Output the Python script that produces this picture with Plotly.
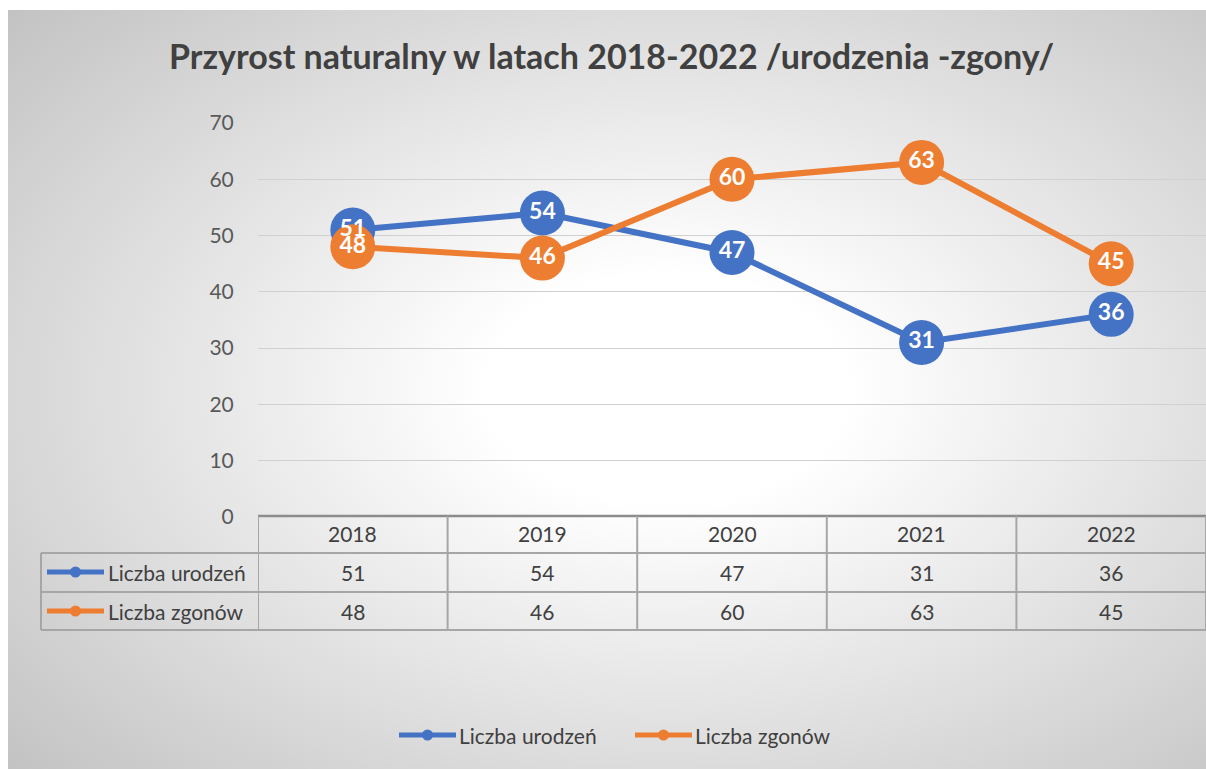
import base64
import plotly.graph_objects as go

years = ["2018", "2019", "2020", "2021", "2022"]
births = [51, 54, 47, 31, 36]
deaths = [48, 46, 60, 63, 45]
series_names = ["Liczba urodzeń", "Liczba zgonów"]
title_text = "Przyrost naturalny w latach 2018-2022 /urodzenia -zgony/"
y_ticks = [0, 10, 20, 30, 40, 50, 60, 70]

W, H = 1206, 769
BLUE = "#4472C4"
ORANGE = "#ED7D31"
TXT = "#404040"
GRID = "#d0d0d0"
TBL = "#a6a6a6"
FONT = "Lato"
FS = 21


def px(x):
    return x / W


def py(y):
    return 1 - y / H


svg = f"""<svg xmlns='http://www.w3.org/2000/svg' width='{W}' height='{H}' viewBox='0 0 1198 759' preserveAspectRatio='none'>
<defs><radialGradient id='g' cx='0.55' cy='0.5' r='0.75' gradientUnits='objectBoundingBox'>
<stop offset='0' stop-color='#ffffff'/><stop offset='0.2' stop-color='#ffffff'/><stop offset='1' stop-color='#c2c2c2'/>
</radialGradient></defs>
<rect x='0' y='0' width='1198' height='759' fill='url(#g)'/>
</svg>"""
bg_uri = "data:image/svg+xml;base64," + base64.b64encode(svg.encode()).decode()

fig = go.Figure()

for vals, color, name in [(births, BLUE, series_names[0]), (deaths, ORANGE, series_names[1])]:
    fig.add_trace(go.Scatter(
        x=years, y=vals, mode="lines+markers", name=name,
        line=dict(color=color, width=6),
        marker=dict(color=color, size=45, line=dict(width=0)),
        showlegend=False, hoverinfo="skip",
    ))
for vals in [births, deaths]:
    fig.add_trace(go.Scatter(
        x=years, y=vals, mode="text", text=[str(v) for v in vals],
        textposition="middle center",
        textfont=dict(family=FONT, size=23, color="white", weight="bold"),
        showlegend=False, hoverinfo="skip",
    ))

shapes = []
annotations = []


def txt(x, y, text, xref="paper", xanchor="center", size=FS, color=TXT, bold=False):
    annotations.append(dict(x=x, y=y, xref=xref, yref="paper",
                            text=f"<b>{text}</b>" if bold else text, showarrow=False,
                            xanchor=xanchor, yanchor="middle",
                            font=dict(family=FONT, size=size, color=color)))


# title
txt(px(611), py(55), title_text, size=34, bold=True)

# data table
row_y = [533, 572, 611]
row_lines = [553, 592, 630]
xl_left = px(41)
for yy in row_lines:
    shapes.append(dict(type="line", xref="paper", yref="paper", x0=xl_left, x1=1,
                       y0=py(yy), y1=py(yy), line=dict(color=TBL, width=2)))
shapes.append(dict(type="line", xref="paper", yref="paper", x0=px(258), x1=1,
                   y0=py(516), y1=py(516), line=dict(color="#8c8c8c", width=2.5)))
for i in range(len(years) + 1):
    shapes.append(dict(type="line", xref="x", yref="paper", x0=i - 0.5, x1=i - 0.5,
                       y0=py(516), y1=py(630), line=dict(color=TBL, width=2)))
shapes.append(dict(type="line", xref="paper", yref="paper", x0=xl_left, x1=xl_left,
                   y0=py(553), y1=py(630), line=dict(color=TBL, width=2)))

for i, yr in enumerate(years):
    txt(i, py(row_y[0]), yr, xref="x")
    txt(i, py(row_y[1]), str(births[i]), xref="x")
    txt(i, py(row_y[2]), str(deaths[i]), xref="x")


def legend_key(x0, x1, yy, color):
    shapes.append(dict(type="line", xref="paper", yref="paper", x0=px(x0), x1=px(x1),
                       y0=py(yy), y1=py(yy), line=dict(color=color, width=5)))
    cx = (x0 + x1) / 2
    shapes.append(dict(type="circle", xref="paper", yref="paper",
                       x0=px(cx - 5.5), x1=px(cx + 5.5), y0=py(yy + 5.5), y1=py(yy - 5.5),
                       fillcolor=color, line=dict(width=0)))


legend_key(47, 104, row_y[1], BLUE)
legend_key(47, 104, row_y[2], ORANGE)
txt(px(106), py(row_y[1]), series_names[0], xanchor="left")
txt(px(106), py(row_y[2]), series_names[1], xanchor="left")

legend_key(399, 456, 735, BLUE)
legend_key(635, 692, 735, ORANGE)
txt(px(457), py(735), series_names[0], xanchor="left")
txt(px(693), py(735), series_names[1], xanchor="left")

fig.update_layout(
    width=W, height=H,
    margin=dict(l=0, r=0, t=0, b=0, pad=0, autoexpand=False),
    paper_bgcolor="white",
    plot_bgcolor="rgba(0,0,0,0)",
    images=[dict(source=bg_uri, xref="paper", yref="paper", x=px(8), y=py(10),
                 sizex=1 - px(8), sizey=py(10), sizing="stretch", layer="below",
                 xanchor="left", yanchor="top")],
    xaxis=dict(domain=[px(258), 1], type="category", range=[-0.5, 4.5], automargin=False,
               showticklabels=False, showgrid=False, zeroline=False, showline=False, fixedrange=True),
    yaxis=dict(domain=[py(517), py(123)], range=[0, 70], tickvals=y_ticks, automargin=False,
               showgrid=True, gridcolor=GRID, gridwidth=1.3, zeroline=False, showline=False,
               ticks="outside", ticklen=19, tickcolor="rgba(0,0,0,0)", fixedrange=True,
               tickfont=dict(family=FONT, size=FS, color="#595959")),
    shapes=shapes,
    annotations=annotations,
    showlegend=False,
)

fig.write_html("out.html", config={"displayModeBar": False},
               post_script="document.body.style.margin='0';document.body.style.overflow='hidden';")
